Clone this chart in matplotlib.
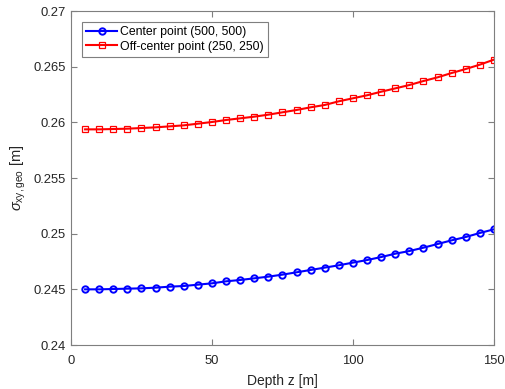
import numpy as np
import matplotlib.pyplot as plt

plt.rcParams['font.family'] = ['Liberation Sans', 'DejaVu Sans']
plt.rcParams['mathtext.fontset'] = 'custom'
plt.rcParams['mathtext.rm'] = 'Liberation Sans'
plt.rcParams['mathtext.it'] = 'Liberation Sans:italic'

# depth samples and standard deviation for both evaluation points
depth = np.arange(5, 151, 5)
sigma_center = [0.24500, 0.24500, 0.24503, 0.24506, 0.24509, 0.24515, 0.24524, 0.24530,
                0.24542, 0.24554, 0.24572, 0.24584, 0.24599, 0.24614, 0.24632, 0.24653,
                0.24674, 0.24695, 0.24716, 0.24740, 0.24763, 0.24790, 0.24820, 0.24844,
                0.24874, 0.24907, 0.24940, 0.24970, 0.25006, 0.25039]
sigma_off = [0.25937, 0.25937, 0.25940, 0.25943, 0.25949, 0.25955, 0.25964, 0.25973,
             0.25988, 0.26003, 0.26021, 0.26036, 0.26051, 0.26069, 0.26090, 0.26111,
             0.26135, 0.26156, 0.26189, 0.26216, 0.26243, 0.26275, 0.26305, 0.26335,
             0.26371, 0.26404, 0.26443, 0.26479, 0.26518, 0.26563]

grey = '#262626'
spine_grey = '#7f7f7f'

fig = plt.figure(figsize=(5.05, 3.89), dpi=100)
ax = fig.add_axes([0.1406, 0.1131, 0.8374, 0.8586])

ax.plot(depth, sigma_center, '-o', color='blue', lw=1.5, ms=4.6, mew=1.4,
        mfc='none', label='Center point (500, 500)')
ax.plot(depth, sigma_off, '-s', color='red', lw=1.5, ms=4.2, mew=0.9,
        mfc='none', label='Off-center point (250, 250)')

ax.set_xlim(0, 150)
ax.set_ylim(0.24, 0.27)
ax.set_xticks([0, 50, 100, 150])
ax.set_yticks([0.24, 0.245, 0.25, 0.255, 0.26, 0.265, 0.27])
ax.set_yticklabels(['0.24', '0.245', '0.25', '0.255', '0.26', '0.265', '0.27'])

for s in ax.spines.values():
    s.set_color(spine_grey)
    s.set_linewidth(0.8)
ax.tick_params(direction='in', top=True, right=True, length=4, width=0.8,
               color=spine_grey, labelcolor=grey, labelsize=9.4, pad=4)
ax.tick_params(axis='x', pad=7)

ax.set_xlabel('Depth z [m]', fontsize=10, color=grey, labelpad=5)
ax.set_ylabel(r'$\it{\sigma}_{\rm xy,geo}$ [m]', fontsize=10.5, color=grey, labelpad=4)

leg = ax.legend(loc='upper left', fontsize=8.8, fancybox=False, framealpha=1,
                edgecolor=spine_grey, borderaxespad=0.9, handlelength=2.5,
                borderpad=0.35, labelspacing=0.2, handletextpad=0.25)
leg.get_frame().set_linewidth(0.8)

fig.savefig('out.png', dpi=100)
